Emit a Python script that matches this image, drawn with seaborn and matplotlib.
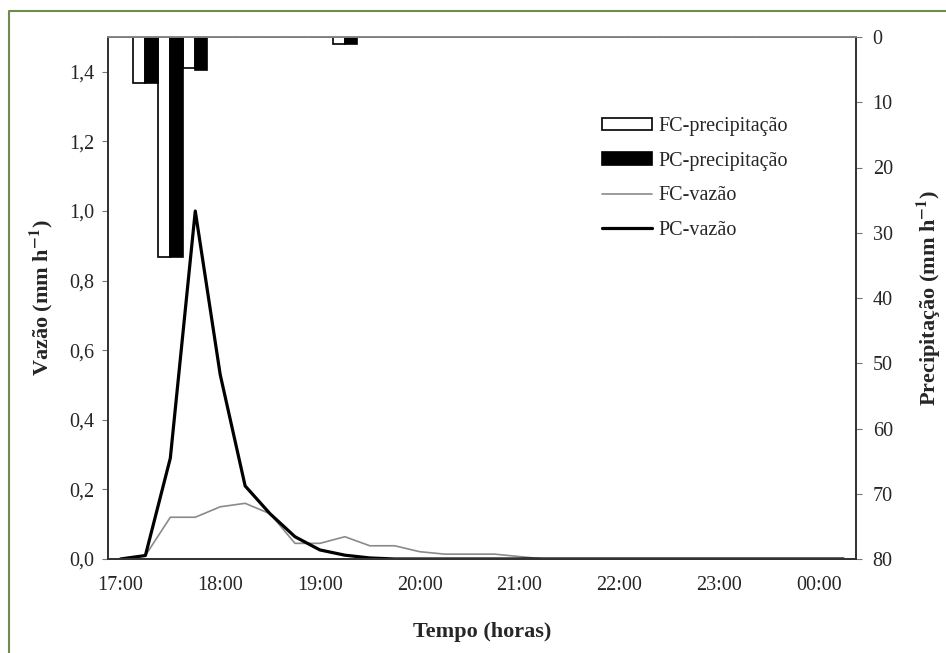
import seaborn as sns
import matplotlib.pyplot as plt
import matplotlib.lines as mlines
import pandas as pd
import numpy as np

sns.set_style("white")
plt.rcParams['font.family'] = ['Liberation Serif', 'DejaVu Serif']
plt.rcParams['mathtext.fontset'] = 'stix'

# 15-min steps from 17:00 to 00:15
times = ["17:00", "17:15", "17:30", "17:45", "18:00", "18:15", "18:30", "18:45",
         "19:00", "19:15", "19:30", "19:45", "20:00", "20:15", "20:30", "20:45",
         "21:00", "21:15", "21:30", "21:45", "22:00", "22:15", "22:30", "22:45",
         "23:00", "23:15", "23:30", "23:45", "00:00", "00:15"]

pc_vazao = [0.0, 0.01, 0.29, 1.0, 0.53, 0.21, 0.13, 0.064, 0.026, 0.011, 0.003, 0.0,
            0.0, 0.0, 0.0, 0.0, 0.0, 0.0, 0.0, 0.0, 0.0, 0.0, 0.0, 0.0,
            0.0, 0.0, 0.0, 0.0, 0.0, 0.0]
fc_vazao = [0.0, 0.01, 0.12, 0.12, 0.15, 0.16, 0.13, 0.045, 0.045, 0.064, 0.038, 0.038,
            0.021, 0.014, 0.014, 0.014, 0.007, 0.0, 0.0, 0.0, 0.0, 0.0, 0.0, 0.0,
            0.0, 0.0, 0.0, 0.0, 0.0, 0.0]

fc_prec = [0, 7.0, 33.7, 4.8, 0, 0, 0, 0, 0, 1.1] + [0] * 20
pc_prec = [0, 7.0, 33.7, 5.1, 0, 0, 0, 0, 0, 1.1] + [0] * 20

idx = np.arange(len(times))
bars = pd.DataFrame({
    "pos": np.concatenate([idx, idx]),
    "prec": fc_prec + pc_prec,
    "serie": ["FC-precipitação"] * len(idx) + ["PC-precipitação"] * len(idx),
})

TICK_FS = 14.5
LAB_FS = 16

fig = plt.figure(figsize=(9.46, 6.53), dpi=100)
ax1 = fig.add_axes([108 / 946, 1 - 559 / 653, 748 / 946, 522 / 653])
ax2 = ax1.twinx()

# precipitation bars hanging from the top (inverted right axis)
sns.barplot(data=bars, x="pos", y="prec", hue="serie", order=list(idx),
            palette={"FC-precipitação": "white", "PC-precipitação": "black"},
            edgecolor="black", linewidth=1.2, width=0.98, ax=ax2, legend=False)
ax2.set_ylim(80, 0)
ax2.set_yticks(np.arange(0, 81, 10))
ax2.set_ylabel("Precipitação (mm h$^{\\mathbf{-1}}$)", fontsize=LAB_FS, fontweight="bold", labelpad=16)
ax2.set_xlabel("")

# discharge lines
sns.lineplot(x=idx, y=fc_vazao, color="#8a8a8a", linewidth=1.2, ax=ax1)
sns.lineplot(x=idx, y=pc_vazao, color="black", linewidth=2.3, ax=ax1)
ax1.set_ylim(0, 1.5)
ax1.set_yticks(np.arange(0, 1.41, 0.2))
ax1.set_yticklabels([f"{v:.1f}".replace(".", ",") for v in np.arange(0, 1.41, 0.2)])
ax1.set_ylabel("Vazão (mm h$^{\\mathbf{-1}}$)", fontsize=LAB_FS, fontweight="bold", labelpad=10)
ax1.set_xlabel("Tempo (horas)", fontsize=LAB_FS, fontweight="bold", labelpad=20)

ax1.set_xlim(-0.5, len(idx) - 0.5)
ax1.set_xticks(idx[::4])
ax1.set_xticklabels(times[::4])
ax1.set_xticks(np.arange(-0.5, len(idx), 1), minor=True)
ax1.tick_params(axis="x", which="major", length=0, pad=12, labelsize=TICK_FS)
ax1.tick_params(axis="x", which="minor", length=4, width=0.8, color="#555555")
ax1.tick_params(axis="y", length=4, width=0.8, color="#777777", labelsize=TICK_FS, pad=6)
ax2.tick_params(axis="y", length=4, width=0.8, color="#777777", labelsize=TICK_FS, pad=8)

for ax in (ax1, ax2):
    for s in ax.spines.values():
        s.set_linewidth(1.3)
        s.set_color("#333333")
    ax.spines["top"].set_color("#888888")

# legend
handles = [
    plt.Rectangle((0, 0), 1, 1, facecolor="white", edgecolor="black", linewidth=1.2),
    plt.Rectangle((0, 0), 1, 1, facecolor="black", edgecolor="black", linewidth=1.2),
    mlines.Line2D([], [], color="#8a8a8a", linewidth=1.2),
    mlines.Line2D([], [], color="black", linewidth=2.3),
]
labels = ["FC-precipitação", "PC-precipitação", "FC-vazão", "PC-vazão"]
fig.legend(handles, labels, loc="upper left", bbox_to_anchor=(602 / 946, 1 - 117 / 653),
           frameon=False, fontsize=TICK_FS, handlelength=2.5, handleheight=0.6,
           handletextpad=0.3, labelspacing=0.78, borderaxespad=0, borderpad=0)

# green frame around the figure (left and top edges)
fig.add_artist(mlines.Line2D([9 / 946, 9 / 946, 1.0], [0.0, 1 - 11 / 653, 1 - 11 / 653],
                             transform=fig.transFigure, color="#6e8b50", linewidth=1.5))

plt.savefig("out.png", dpi=100)
plt.close()
